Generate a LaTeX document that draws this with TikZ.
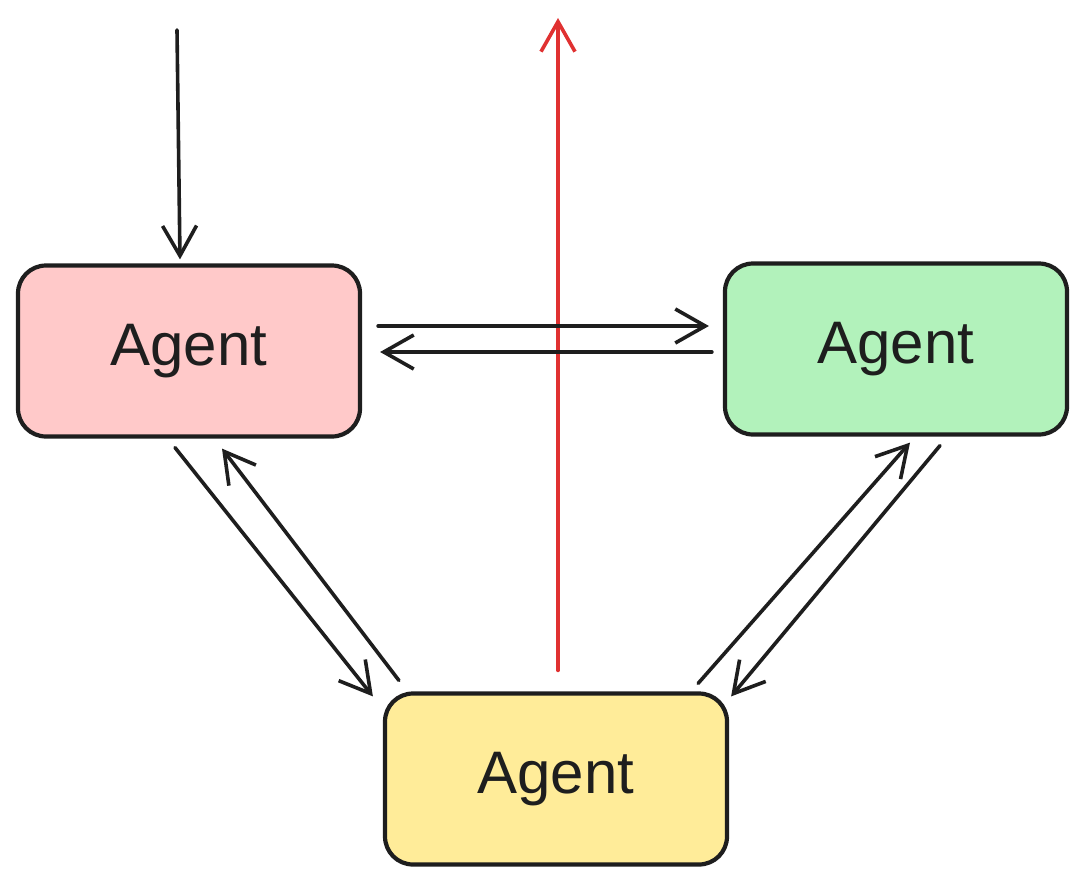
\documentclass[tikz,border=0pt]{standalone}
\usepackage{fontspec}
\setmainfont{Liberation Sans}
\usetikzlibrary{arrows.meta}
\definecolor{ink}{HTML}{1E1E1E}
\definecolor{redfill}{HTML}{FFC9C9}
\definecolor{greenfill}{HTML}{B2F2BB}
\definecolor{yellowfill}{HTML}{FFEC99}
\definecolor{outred}{HTML}{E03131}
\begin{document}
\begin{tikzpicture}[x=1pt,y=-1pt]
\def\l{30pt}
\def\w{34pt}
\def\t{3.6pt}
\tikzset{
  agent/.style={draw=ink, line width=4.2pt, rounded corners=28pt, minimum width=342pt, minimum height=171pt, text=ink, font=\fontsize{60}{72}\selectfont},
  arr/.style={draw=ink, line width=\t, line cap=round, -{Straight Barb[length=\l, width=\w]}}
}
\useasboundingbox (0,0) rectangle (1086,883);

\node [agent, fill=redfill, name=red]       at (189,351) {Agent};
\node [agent, fill=greenfill, name=green]   at (896,349) {Agent};
\node [agent, fill=yellowfill, name=yellow] at (556,779) {Agent};
\coordinate (in)  at (177,30);
\coordinate (out) at (558,18);

\draw [arr] (in) to ([xshift=-9pt,yshift=4pt]red.north);
\draw [arr, draw=outred] ([xshift=2pt,yshift=21pt]yellow.north) to (out);
\draw [arr] ([xshift=16pt,yshift=25pt]red.east) to ([xshift=-14pt,yshift=23pt]green.west);
\draw [arr] ([xshift=-11pt,yshift=-3pt]green.west) to ([xshift=18pt,yshift=-1pt]red.east);
\draw [arr] ([xshift=-14pt,yshift=-9pt]red.south) to ([xshift=-10pt,yshift=-5pt]yellow.north west);
\draw [arr] ([xshift=16pt,yshift=11pt]yellow.north west) to ([xshift=33pt,yshift=-10pt]red.south);
\draw [arr] ([xshift=-31pt,yshift=8pt]yellow.north east) to ([xshift=14pt,yshift=-6pt]green.south);
\draw [arr] ([xshift=44pt,yshift=-9pt]green.south) to ([xshift=2pt,yshift=-5pt]yellow.north east);
\end{tikzpicture}
\end{document}
